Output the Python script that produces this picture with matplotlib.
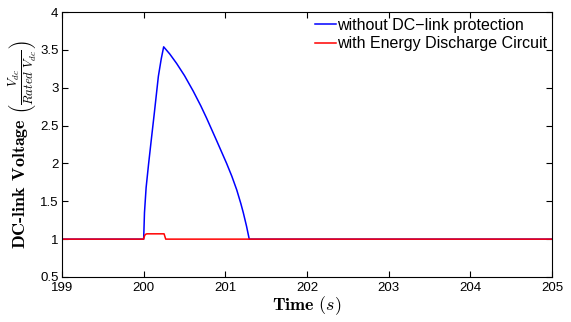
import matplotlib
matplotlib.use("Agg")
import matplotlib.pyplot as plt

plt.rcParams['mathtext.fontset'] = 'cm'

# without DC-link protection
t_blue = [199.0, 200.0, 200.01, 200.03, 200.06, 200.09, 200.13, 200.18, 200.215, 200.245,
          200.32, 200.404, 200.5, 200.607, 200.70, 200.77, 200.894, 201.016,
          201.08, 201.14, 201.19, 201.22, 201.26, 201.293, 205.0]
v_blue = [1.0, 1.0, 1.35, 1.68, 1.99, 2.28, 2.66, 3.15, 3.38, 3.54,
          3.445, 3.32, 3.16, 2.955, 2.76, 2.60, 2.30, 2.0,
          1.83, 1.65, 1.47, 1.35, 1.17, 1.0, 1.0]

# with Energy Discharge Circuit
t_red = [199.0, 200.0, 200.008, 200.016, 200.028, 200.04, 200.25, 200.27, 205.0]
v_red = [1.0, 1.0, 1.035, 1.055, 1.066, 1.07, 1.07, 1.0, 1.0]

fig = plt.figure(figsize=(5.71, 3.22), dpi=100)
ax = fig.add_axes([0.1086, 0.1398, 0.858, 0.8229])

ax.plot(t_blue, v_blue, color='blue', lw=1.1, label='without DC\u2212link protection')
ax.plot(t_red, v_red, color='red', lw=1.1, label='with Energy Discharge Circuit')

ax.set_xlim(199, 205)
ax.set_ylim(0.5, 4)
ax.set_xticks([199, 200, 201, 202, 203, 204, 205])
ax.set_yticks([0.5, 1, 1.5, 2, 2.5, 3, 3.5, 4])
ax.set_yticklabels(['0.5', '1', '1.5', '2', '2.5', '3', '3.5', '4'])
ax.tick_params(direction='in', top=True, right=True, labelsize=9.5, length=4)
ax.tick_params(axis='x', pad=3.6)
ax.tick_params(axis='y', pad=2.5)
for lab in ax.get_xticklabels() + ax.get_yticklabels():
    lab.set_fontfamily('Liberation Sans')

ax.set_xlabel(r'Time $(s)$', fontfamily='cmb10', fontsize=13, labelpad=0)
ax.set_ylabel(r'DC-link Voltage $\left(\frac{V_{dc}}{Rated\ V_{dc}}\right)$',
              fontfamily='cmb10', fontsize=13, labelpad=0.5)

leg = ax.legend(loc='upper left', bbox_to_anchor=(0.516, 0.978), frameon=False,
                prop={'family': 'Liberation Sans', 'size': 11.5},
                handlelength=1.3, handletextpad=0.08, labelspacing=0.22,
                borderaxespad=0, borderpad=0)

fig.savefig('out.png', dpi=100)
